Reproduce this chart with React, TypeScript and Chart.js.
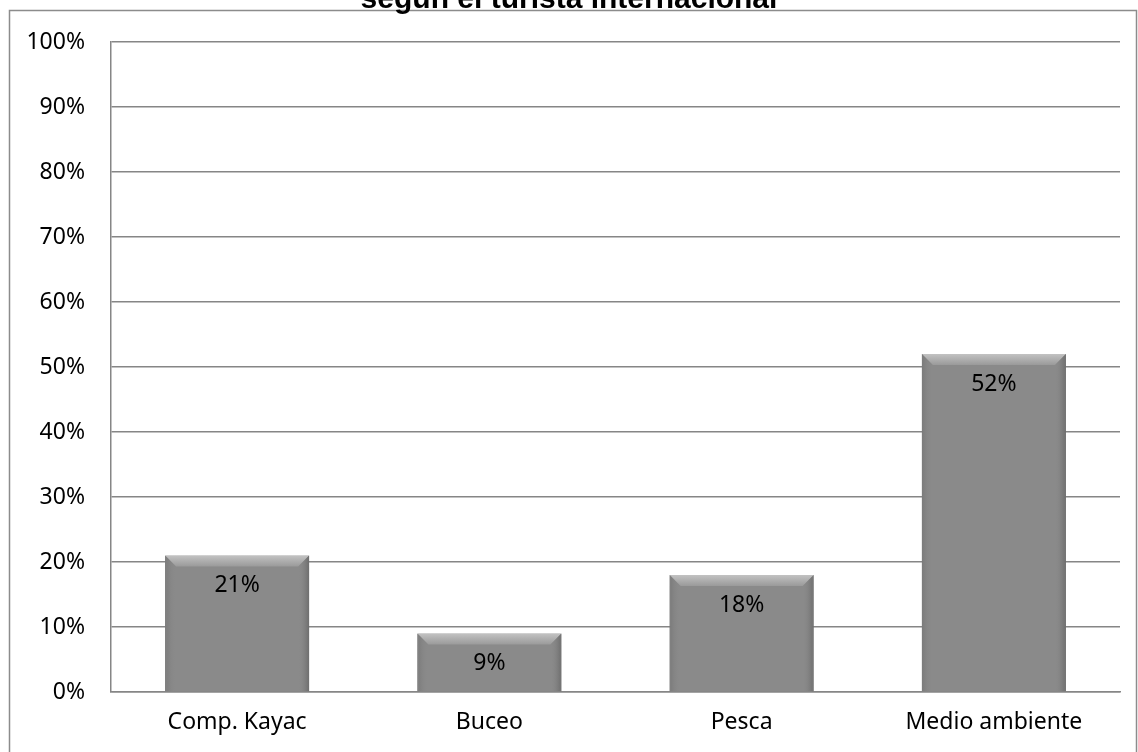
import React, { useEffect, useRef } from "react";
import { Chart, registerables } from "chart.js";

Chart.register(...registerables);

const categories = ["Comp. Kayac", "Buceo", "Pesca", "Medio ambiente"];
const values = [21, 9, 18, 52];
const titleText = "según el turista internacional";

const FONT = "'Noto Sans', 'DejaVu Sans', sans-serif";
const FS = 23;

const framePlugin = {
  id: "frame",
  beforeDraw(chart: any) {
    const ctx = chart.ctx;
    ctx.save();
    ctx.fillStyle = "#ffffff";
    ctx.fillRect(0, 0, chart.width, chart.height);
    ctx.strokeStyle = "#8c8c8c";
    ctx.lineWidth = 1.5;
    ctx.strokeRect(9.5, 10.5, chart.width - 11, chart.height + 20);
    ctx.fillStyle = "#000000";
    ctx.font = "bold 30px 'Liberation Sans', Arial, sans-serif";
    ctx.textAlign = "center";
    ctx.textBaseline = "alphabetic";
    ctx.fillText(titleText, 569, 7.5);
    ctx.restore();
  },
};

const bevelPlugin = {
  id: "bevel",
  afterDatasetsDraw(chart: any) {
    const ctx = chart.ctx;
    const meta = chart.getDatasetMeta(0);
    ctx.save();
    meta.data.forEach((bar: any, i: number) => {
      const w = bar.width;
      const x0 = bar.x - w / 2;
      const x1 = bar.x + w / 2;
      const top = bar.y;
      const bottom = bar.base;
      const b = 11;
      const g = ctx.createLinearGradient(0, top, 0, top + b);
      g.addColorStop(0, "#c2c2c2");
      g.addColorStop(1, "#9a9a9a");
      ctx.fillStyle = g;
      ctx.beginPath();
      ctx.moveTo(x0, top);
      ctx.lineTo(x1, top);
      ctx.lineTo(x1 - b, top + b);
      ctx.lineTo(x0 + b, top + b);
      ctx.closePath();
      ctx.fill();
      const gl = ctx.createLinearGradient(x0, 0, x0 + b, 0);
      gl.addColorStop(0, "rgba(120,120,120,0.9)");
      gl.addColorStop(1, "rgba(138,138,138,0)");
      ctx.fillStyle = gl;
      ctx.beginPath();
      ctx.moveTo(x0, top);
      ctx.lineTo(x0 + b, top + b);
      ctx.lineTo(x0 + b, bottom);
      ctx.lineTo(x0, bottom);
      ctx.closePath();
      ctx.fill();
      const gr = ctx.createLinearGradient(x1, 0, x1 - b, 0);
      gr.addColorStop(0, "rgba(105,105,105,0.9)");
      gr.addColorStop(1, "rgba(138,138,138,0)");
      ctx.fillStyle = gr;
      ctx.beginPath();
      ctx.moveTo(x1, top);
      ctx.lineTo(x1 - b, top + b);
      ctx.lineTo(x1 - b, bottom);
      ctx.lineTo(x1, bottom);
      ctx.closePath();
      ctx.fill();
      ctx.fillStyle = "#000000";
      ctx.font = FS + "px " + FONT;
      ctx.textAlign = "center";
      ctx.textBaseline = "middle";
      ctx.fillText(values[i] + "%", bar.x, top + 30);
    });
    ctx.restore();
  },
};

export default function App() {
  const ref = useRef<HTMLCanvasElement | null>(null);
  useEffect(() => {
    document.body.style.margin = "0";
    const canvas = ref.current;
    if (!canvas) return;
    const chart = new Chart(canvas, {
      type: "bar",
      data: {
        labels: categories,
        datasets: [
          {
            data: values,
            backgroundColor: "#8a8a8a",
            borderColor: "#808080",
            borderWidth: 1,
            categoryPercentage: 1,
            barPercentage: 0.571,
          },
        ],
      },
      options: {
        animation: false,
        responsive: false,
        maintainAspectRatio: false,
        devicePixelRatio: 1,
        layout: { padding: { left: 10, right: 18, top: 42, bottom: 0 } },
        plugins: {
          legend: { display: false },
          title: { display: false },
          tooltip: { enabled: false },
        },
        scales: {
          x: {
            grid: { display: false, drawTicks: false },
            border: { display: true, color: "#868686", width: 1.5 },
            ticks: {
              color: "#000000",
              font: { family: FONT, size: FS },
              padding: 17,
              maxRotation: 0,
            },
            afterFit: (s: any) => {
              s.height = 60;
            },
          },
          y: {
            min: 0,
            max: 100,
            grid: { color: "#868686", lineWidth: 1.5, drawTicks: false },
            border: { display: true, color: "#868686", width: 1.5 },
            ticks: {
              stepSize: 10,
              color: "#000000",
              font: { family: FONT, size: FS },
              padding: 26,
              callback: (v: any) => v + "%",
            },
            afterFit: (s: any) => {
              s.width = 101;
            },
          },
        },
      },
      plugins: [framePlugin, bevelPlugin],
    });
    return () => chart.destroy();
  }, []);
  return (
    <canvas
      ref={ref}
      width={1138}
      height={752}
      style={{ display: "block", width: 1138, height: 752 }}
    />
  );
}
